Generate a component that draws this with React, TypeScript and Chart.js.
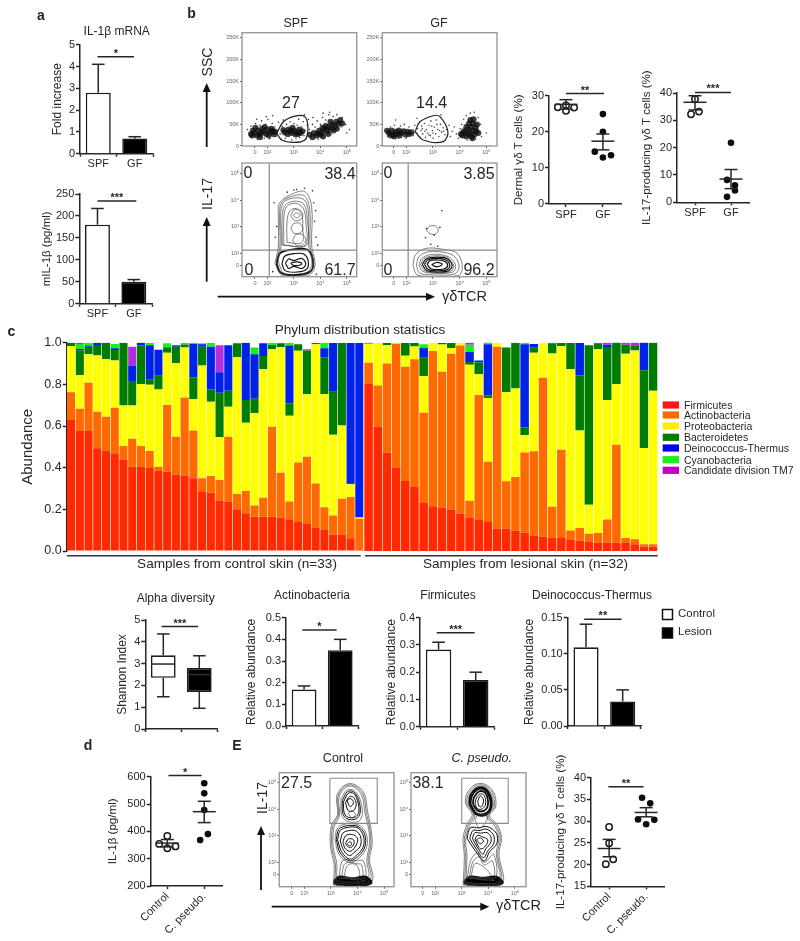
import React, { useEffect, useRef } from "react";
import { Chart, registerables } from "chart.js";
Chart.register(...registerables);

const FONT = "'Liberation Sans', Arial, sans-serif";
const INK = "#262626";

// ---------- panel c: phylum abundance per sample ----------
const controlSamples = Array.from({ length: 34 }, (_, i) => `C${i + 1}`);
const lesionSamples = Array.from({ length: 32 }, (_, i) => `L${i + 1}`);
const phyla = ["Firmicutes", "Actinobacteria", "Proteobacteria", "Bacteroidetes", "Deinococcus-Thermus", "Cyanobacteria", "Candidate division TM7"];
const phylaBarColors = ["#ff2a00", "#ff6a00", "#ffff00", "#007d00", "#0022e8", "#19f019", "#b030e0"];
const phylaLegendColors = ["#ff1414", "#ff6a00", "#ffee00", "#007d00", "#0000f0", "#19f019", "#c000c0"];

const ctlFirmicutes = [.629,.576,.576,.493,.482,.469,.437,.405,.405,.398,.384,.381,.366,.363,.349,.283,.28,.242,.238,.2,.181,.165,.165,.165,.16,.152,.139,.133,.11,.101,.078,.078,.061,.005];
const ctlActino = [.133,.107,.232,.176,.162,.219,.067,.134,.099,.082,.021,.32,.182,.374,.229,.066,.08,.099,.31,.074,.107,.053,.091,.432,.216,.086,.286,.32,.214,.109,.093,.173,.198,.15];
const ctlProteo = [.222,.162,.136,.27,.277,.227,.195,.16,.298,.318,.37,.251,.354,.24,.15,.542,.357,.205,.144,.656,.328,.443,.616,.371,.602,.411,.536,.299,.669,.544,.387,.352,.062,.006];
const ctlBactero = [.016,.117,.037,.05,.08,.05,.301,.117,.186,.024,.066,.026,.078,.014,.106,.09,.059,.214,.077,.067,.109,.07,.064,.021,.019,.059,.032,.21,.006,.176,.206,.397,.006,0];
const ctlDeino = [0,.008,.006,.01,0,.008,0,.074,.013,.166,.125,0,.008,0,.16,.011,.205,.098,.219,0,.275,.214,.061,0,0,.278,0,0,0,.043,.235,0,.672,.838];
const ctlCyano = [0,.024,.013,.002,0,.021,0,0,0,.011,0,.019,0,.008,.006,0,.019,0,0,0,0,.032,0,.011,.003,.013,0,0,0,.027,0,0,0,0];
const ctlTM7 = [0,.006,0,0,0,0,0,.091,0,0,0,0,0,0,0,.004,0,.13,0,0,0,0,0,0,0,0,0,.006,0,0,0,0,0,0];

const lesFirmicutes = [.804,.597,.473,.398,.336,.307,.231,.215,.209,.199,.18,.158,.153,.139,.107,.107,.097,.089,.075,.068,.064,.062,.053,.049,.046,.041,.041,.04,.038,.033,.021,.021];
const lesActino = [.1,.197,.427,.597,.548,.613,.433,.745,.651,.748,.807,.083,.596,.29,.873,.228,.258,.384,.404,.764,.148,.424,.045,.062,.037,.046,.11,.47,.024,.024,.011,.011];
const lesProteo = [.091,.204,.088,.006,.053,.062,.175,.038,.131,.027,.011,.653,.099,.306,.019,.427,.425,.084,.473,.169,.736,.498,.774,.467,.139,.882,.573,.291,.885,.906,.462,.737];
const lesBactero = [.006,0,.011,0,.062,.016,.089,0,.008,.024,0,.013,.057,.013,0,.215,.22,.037,.024,0,.048,.014,.127,.266,.766,.025,.255,.201,.043,.021,.374,.232];
const lesDeino = [0,0,0,0,0,0,.046,0,0,0,0,.048,.01,.245,0,0,0,.398,.018,0,.005,0,0,.154,0,0,.011,0,0,0,.134,0];
const lesCyano = [0,0,0,0,0,0,.018,0,0,0,0,.035,0,.01,0,0,0,.008,0,0,0,0,0,0,0,0,0,0,0,0,0,0];
const lesTM7 = [0,0,0,0,0,0,0,0,0,0,0,.011,0,0,0,0,0,0,0,0,0,0,0,0,0,.006,.011,0,.011,.018,0,0];

// ---------- bar panels ----------
const spfGf = ["SPF", "GF"];
const mrnaMean = [2.8, 0.7];
const mrnaTop = [4.1, 0.78];
const mil1Mean = [180, 50];
const mil1Top = [217, 55];
const actinoMean = [0.168, 0.35];
const actinoTop = [0.185, 0.4];
const firmMean = [0.283, 0.171];
const firmTop = [0.31, 0.2];
const deinoMean = [0.109, 0.034];
const deinoTop = [0.141, 0.05];
// box plot: q1, q3, median, low whisker, high whisker
const boxQ1 = [2.35, 1.7];
const boxQ3 = [3.38, 2.8];
const boxMedian = [2.98, 2.5];
const boxLow = [1.48, 0.95];
const boxHigh = [4.36, 3.36];

// ---------- individual-value panels ----------
const dermalSpf = [[0.78, 26.8], [1, 25.8], [1, 27.3], [1.22, 26.7]];
const dermalGf = [[2, 24.9], [2, 20], [1.78, 14.5], [2, 12.9], [2.22, 13.5]];
const dermalMean = [27.6, 17.4];
const dermalLo = [26.3, 15];
const dermalHi = [28.9, 19.4];
const il17Spf = [[0.89, 32.2], [1.11, 33.2], [1, 37.7]];
const il17Gf = [[2, 21.8], [1.89, 8.2], [2.11, 6.2], [2.11, 4.3], [1.89, 2]];
const il17Mean = [36.6, 8.5];
const il17Lo = [33.8, 5];
const il17Hi = [39, 12];
const il1Control = [[0.78, 354], [1, 383], [1, 338], [1.22, 345]];
const il1Pseudo = [[2, 576], [2, 539], [2, 478], [2.1, 390], [1.89, 368]];
const il1Mean = [357, 472];
const il1Lo = [343, 432];
const il1Hi = [370, 510];
const eControl = [[1, 28.65], [1, 24.9], [0.91, 20.1], [1.11, 21.2]];
const ePseudo = [[1.89, 35.4], [2.11, 34.1], [1.78, 30.4], [2.22, 30.3], [2, 29.3]];
const eMean = [23.7, 32];
const eLo = [21.8, 31];
const eHi = [25.8, 33.1];
const controlPseudo = ["Control", "C. pseudo."];

// ---------- flow cytometry (x: log decades of gamma-delta TCR; y: SSC in K or log decades of IL-17) ----------
const logTicks = [1.53, 2, 3, 4, 5];
const logLabels = ["0", "10²", "10³", "10⁴", "10⁵"];
const sscTicks = [0, 50, 100, 150, 200, 250];
const sscLabels = ["0", "50K", "100K", "150K", "200K", "250K"];

const spfCore = [[1.5,30],[1.65,36],[1.7,26],[1.85,33],[1.95,28],[2.0,38],[2.1,31],[2.2,35],[1.6,24],[1.8,40],[2.25,27],[1.45,36],[1.75,30],[2.05,24],[2.15,40],[1.38,28],[1.55,42],[1.9,44],[1.42,24],[1.72,20],[2.28,33],[2.65,32],[2.8,38],[2.9,30],[3.0,36],[3.1,32],[3.2,38],[2.75,28],[3.05,27],[2.95,42],[3.25,30],[2.6,37],[2.85,34],[3.15,28],[3.32,34],[3.6,26],[3.75,30],[3.85,24],[3.95,35],[4.05,30],[4.15,38],[4.25,34],[4.3,44],[4.4,40],[4.45,50],[4.55,46],[4.6,56],[4.7,52],[4.5,36],[4.0,26],[4.75,60],[4.2,46],[3.7,20],[3.9,29],[4.1,22],[4.3,28],[4.62,40],[4.82,52],[4.38,56],[4.08,42]];
const spfSparse = [[1.25,38],[1.32,27],[1.38,46],[1.42,20],[1.55,52],[1.62,16],[1.72,48],[1.78,58],[1.88,18],[1.92,50],[2.02,62],[2.08,17],[2.18,52],[2.28,44],[2.32,22],[2.38,36],[2.42,55],[2.48,28],[2.52,16],[2.55,46],[2.6,60],[2.68,18],[2.72,50],[2.82,22],[2.86,56],[2.92,14],[3.0,52],[3.08,18],[3.12,48],[3.18,62],[3.22,20],[3.3,44],[3.35,56],[3.38,24],[3.42,36],[3.46,16],[3.5,48],[3.55,62],[3.58,38],[3.65,18],[3.7,50],[3.72,66],[3.8,44],[3.88,58],[3.92,16],[4.0,50],[4.08,66],[4.12,20],[4.2,60],[4.28,24],[4.32,72],[4.4,28],[4.48,68],[4.55,34],[4.62,72],[4.68,40],[4.78,44],[4.82,66],[4.88,56],[4.95,50],[4.35,78],[4.1,76],[3.4,72],[2.2,70],[1.95,68],[1.6,62],[5.1,38],[5.0,30]];
const gfCore = [[1.35,30],[1.45,36],[1.5,26],[1.6,33],[1.65,28],[1.72,36],[1.8,30],[1.9,34],[1.55,22],[1.98,26],[2.05,33],[2.12,28],[1.28,35],[1.42,24],[1.75,24],[2.2,32],[4.1,24],[4.2,30],[4.25,22],[4.3,38],[4.38,30],[4.42,44],[4.5,36],[4.55,26],[4.6,42],[4.35,52],[4.5,52],[4.62,34],[4.7,30],[4.45,22],[4.52,62],[4.25,44],[4.15,34],[4.05,28],[4.4,60],[4.65,50],[4.35,26],[4.48,18]];
const gfSparse = [[1.2,38],[1.3,22],[1.4,44],[1.55,48],[1.7,18],[1.78,46],[1.92,50],[2.0,18],[2.1,44],[2.2,36],[2.26,24],[2.32,48],[2.4,30],[2.42,40],[2.5,22],[2.55,36],[2.58,46],[2.62,28],[2.68,52],[2.72,20],[2.75,38],[2.8,30],[2.85,48],[2.9,24],[2.92,58],[2.98,36],[3.0,18],[3.05,44],[3.1,28],[3.12,60],[3.18,38],[3.22,22],[3.28,50],[3.32,32],[3.38,42],[3.45,26],[3.5,38],[3.6,48],[3.65,22],[3.72,34],[3.8,44],[3.88,28],[3.95,18],[4.02,40],[4.08,50],[4.15,62],[4.25,70],[4.4,76],[4.55,78],[4.7,66],[4.78,50],[4.82,22],[5.0,30],[4.3,14],[4.6,16],[1.6,60],[2.4,64],[3.3,72],[2.7,34],[2.85,26],[3.0,30],[3.15,50],[3.25,36],[2.95,46],[2.6,40],[3.4,34]];
const spfGate = [[2.35,29],[2.6,56],[3.04,69],[3.41,68],[3.53,41],[3.41,14],[2.97,8.5],[2.54,14]];
const gfGate = [[2.33,33],[2.51,56],[3.01,70],[3.26,68],[3.56,33],[3.38,10],[2.63,14]];

const quadV = [[2.07, 1.0], [2.07, 5.5]];
const quadH = [[1.0, 2.11], [5.5, 2.11]];

const spfThin = [
  [[2.28,1.61],[2.41,2.24],[2.41,3.5],[2.45,3.88],[2.85,4.19],[3.41,4.32],[3.67,3.75],[3.67,2.3],[3.79,1.49],[3.48,1.11],[2.6,1.11]],
  [[2.34,1.65],[2.47,2.27],[2.46,3.45],[2.53,3.9],[2.92,4.14],[3.4,4.16],[3.6,3.62],[3.61,2.3],[3.73,1.55],[3.44,1.15],[2.62,1.15]],
  [[2.4,1.7],[2.52,2.3],[2.5,3.4],[2.6,3.9],[3.0,4.08],[3.4,4.0],[3.55,3.5],[3.55,2.3],[3.68,1.6],[3.4,1.2],[2.65,1.2]],
  [[2.56,2.3],[2.56,3.32],[2.66,3.8],[3.02,3.96],[3.38,3.84],[3.5,3.32],[3.48,2.3]],
  [[2.62,2.3],[2.62,3.3],[2.72,3.75],[3.05,3.88],[3.35,3.7],[3.45,3.2],[3.42,2.3]],
  [[2.74,2.4],[2.74,3.2],[2.85,3.6],[3.1,3.68],[3.3,3.45],[3.33,3.0],[3.3,2.4]],
  [[2.88,3.43],[3.0,3.62],[3.22,3.62],[3.34,3.43],[3.22,3.25],[3.0,3.25]],
  [[2.97,3.43],[3.1,3.52],[3.24,3.43],[3.1,3.33]],
  [[2.88,2.93],[3.0,3.12],[3.22,3.12],[3.34,2.93],[3.22,2.75],[3.0,2.75]],
  [[2.95,2.49],[3.08,2.7],[3.32,2.7],[3.45,2.49],[3.3,2.3],[3.08,2.3]],
];
const spfDark = [
  [[2.35,1.61],[2.47,1.99],[2.97,2.14],[3.54,2.11],[3.73,1.61],[3.6,1.29],[2.97,1.17],[2.47,1.29]],
  [[2.55,1.6],[2.65,1.88],[3.0,1.98],[3.4,1.95],[3.55,1.6],[3.42,1.35],[3.0,1.28],[2.65,1.35]],
  [[2.68,1.62],[2.8,1.78],[3.0,1.72],[3.3,1.8],[3.45,1.6],[3.3,1.42],[3.0,1.5],[2.8,1.42]],
  [[2.88,1.62],[3.0,1.66],[3.2,1.66],[3.3,1.6],[3.2,1.54],[2.98,1.54]],
];
const spfOutliers = [[2.35,3.0],[2.3,2.6],[3.75,3.9],[3.78,3.2],[3.7,4.35],[2.75,4.3],[3.1,4.4],[3.4,4.45],[3.83,2.6],[3.85,1.2],[2.2,1.3],[3.9,2.3],[2.25,3.9],[3.82,3.6],[3.0,4.38]];

const gfThin = [
  [[2.25,1.55],[2.35,1.95],[2.75,2.18],[3.4,2.14],[3.9,2.0],[4.1,1.5],[3.95,1.15],[3.0,1.12],[2.4,1.18]],
  [[2.38,1.55],[2.48,1.88],[2.85,2.05],[3.4,2.03],[3.8,1.88],[3.98,1.5],[3.82,1.22],[3.0,1.18],[2.5,1.25]],
  [[2.48,1.55],[2.58,1.8],[2.95,1.95],[3.4,1.92],[3.7,1.78],[3.85,1.5],[3.72,1.28],[3.05,1.24],[2.6,1.32]],
  [[2.54,1.56],[2.66,1.79],[3.05,1.9],[3.48,1.85],[3.68,1.7],[3.78,1.5],[3.64,1.3],[3.08,1.26],[2.68,1.34]],
  [[2.75,2.87],[2.88,3.02],[3.1,3.02],[3.2,2.87],[3.1,2.72],[2.9,2.72]],
];
const gfDark = [
  [[2.6,1.58],[2.75,1.78],[3.15,1.85],[3.55,1.78],[3.72,1.52],[3.55,1.32],[3.1,1.28],[2.75,1.35]],
  [[2.78,1.58],[2.9,1.72],[3.2,1.74],[3.45,1.68],[3.55,1.52],[3.4,1.4],[3.1,1.38],[2.9,1.42]],
  [[2.68,1.58],[2.82,1.75],[3.18,1.8],[3.5,1.73],[3.63,1.52],[3.48,1.36],[3.1,1.33],[2.82,1.38]],
  [[2.95,1.56],[3.15,1.65],[3.35,1.58],[3.15,1.48]],
];
const gfOutliers = [[3.33,3.6],[2.76,2.93],[3.26,2.97],[3.05,2.68],[2.72,2.58],[2.92,2.33],[3.18,2.26]];

const ctrlGate = [[2.96,5.17],[4.74,5.17],[4.74,3.47],[2.96,3.47],[2.96,5.17]];
const pseudoGate = [[3.0,5.17],[4.75,5.17],[4.75,3.47],[3.0,3.47],[3.0,5.17]];
const ctrlThin = [
  [[3.09,1.15],[3.12,1.9],[2.98,2.6],[3.02,3.4],[3.25,3.8],[3.22,4.5],[3.5,4.9],[3.85,4.95],[4.25,4.6],[4.38,3.9],[4.5,3.3],[4.55,2.7],[4.45,2.1],[4.55,1.3],[3.8,1.1]],
  [[3.14,1.22],[3.17,1.92],[3.03,2.6],[3.07,3.38],[3.28,3.78],[3.26,4.47],[3.52,4.86],[3.85,4.9],[4.21,4.55],[4.33,3.87],[4.46,3.28],[4.5,2.7],[4.4,2.1],[4.48,1.35],[3.8,1.18]],
  [[3.2,1.3],[3.22,1.95],[3.08,2.6],[3.12,3.35],[3.32,3.75],[3.3,4.45],[3.55,4.82],[3.85,4.85],[4.17,4.5],[4.28,3.85],[4.42,3.25],[4.45,2.7],[4.35,2.1],[4.4,1.4],[3.8,1.25]],
  [[3.38,4.4],[3.6,4.72],[3.85,4.72],[4.08,4.42],[4.18,3.85],[4.05,3.55],[3.6,3.55],[3.4,3.8]],
  [[3.15,2.9],[3.25,3.3],[3.6,3.45],[4.05,3.4],[4.32,3.1],[4.35,2.6],[4.1,2.2],[3.7,2.0],[3.3,2.3]],
  [[3.3,1.4],[3.4,2.0],[3.55,2.1],[3.9,2.05],[4.22,2.05],[4.25,1.4]],
  [[3.4,1.42],[3.5,1.92],[3.7,2.0],[3.95,1.95],[4.15,1.9],[4.15,1.42]],
  [[3.5,1.45],[3.6,1.85],[3.8,1.95],[4.0,1.85],[4.05,1.45]],
  [[3.65,3.85],[3.8,3.95],[3.92,3.8],[3.78,3.68]],
];
const ctrlDark = [
  [[3.43,4.34],[3.62,4.66],[3.85,4.66],[4.04,4.36],[4.1,3.88],[3.95,3.64],[3.6,3.64],[3.44,3.88]],
  [[3.48,4.3],[3.65,4.6],[3.85,4.6],[4.0,4.32],[4.05,3.9],[3.9,3.7],[3.6,3.72],[3.48,3.95]],
  [[3.55,4.25],[3.7,4.48],[3.85,4.45],[3.95,4.2],[3.85,3.95],[3.65,3.95]],
  [[3.6,4.35],[3.75,4.4],[3.85,4.25],[3.72,4.1]],
  [[3.2,2.87],[3.3,3.25],[3.62,3.38],[4.02,3.35],[4.27,3.05],[4.28,2.6],[4.05,2.25],[3.7,2.06],[3.35,2.35]],
  [[3.25,2.85],[3.35,3.2],[3.65,3.32],[4.0,3.3],[4.22,3.0],[4.22,2.6],[4.0,2.3],[3.7,2.12],[3.4,2.4]],
  [[3.35,2.8],[3.45,3.1],[3.7,3.2],[3.95,3.18],[4.12,2.95],[4.1,2.6],[3.9,2.4],[3.7,2.25],[3.48,2.45]],
  [[3.45,2.75],[3.55,3.0],[3.8,3.05],[4.0,2.9],[3.95,2.65],[3.75,2.42],[3.55,2.5]],
  [[3.55,2.7],[3.65,2.88],[3.85,2.85],[3.85,2.65],[3.7,2.55]],
  [[3.62,2.7],[3.72,2.78],[3.78,2.68],[3.7,2.62]],
];
const ctrlBase = [
  [[3.1,1.22],[3.3,1.44],[3.8,1.38],[4.3,1.44],[4.5,1.22],[3.8,1.14]],
  [[3.2,1.18],[3.8,1.27],[4.4,1.18],[3.8,1.2]],
  [[3.12,1.3],[3.4,1.36],[3.8,1.32],[4.2,1.36],[4.48,1.3],[3.8,1.24]],
];
const pseudoThin = [
  [[3.05,1.15],[3.1,2.2],[3.05,2.9],[3.2,3.45],[3.4,3.8],[3.15,4.2],[3.2,4.6],[3.5,4.93],[3.85,4.95],[4.2,4.65],[4.28,4.1],[4.05,3.75],[4.35,3.4],[4.5,2.9],[4.4,2.3],[4.55,1.2],[3.8,1.1]],
  [[3.1,1.2],[3.15,2.2],[3.1,2.88],[3.25,3.42],[3.45,3.78],[3.2,4.2],[3.25,4.57],[3.52,4.88],[3.85,4.9],[4.15,4.62],[4.23,4.1],[4.0,3.73],[4.3,3.38],[4.45,2.9],[4.35,2.32],[4.48,1.25],[3.8,1.15]],
  [[3.15,1.25],[3.2,2.2],[3.15,2.85],[3.3,3.4],[3.5,3.75],[3.25,4.2],[3.3,4.55],[3.55,4.83],[3.85,4.85],[4.1,4.6],[4.18,4.1],[3.95,3.72],[4.25,3.35],[4.4,2.9],[4.3,2.35],[4.42,1.3],[3.8,1.2]],
  [[3.5,3.6],[3.62,3.78],[3.95,3.75],[3.9,3.5],[3.65,3.3]],
  [[3.2,1.4],[3.35,2.1],[3.6,2.35],[3.85,2.0],[4.2,2.3],[4.25,1.4]],
  [[3.28,1.42],[3.42,2.02],[3.65,2.2],[3.85,1.9],[4.15,2.05],[4.18,1.42]],
  [[3.35,1.45],[3.5,1.95],[3.85,1.8],[4.1,1.45]],
];
const pseudoDark = [
  [[3.28,4.2],[3.33,4.53],[3.57,4.8],[3.85,4.8],[4.07,4.53],[4.12,4.1],[3.93,3.8],[3.55,3.8]],
  [[3.33,4.2],[3.38,4.5],[3.6,4.75],[3.85,4.75],[4.03,4.5],[4.08,4.1],[3.9,3.85],[3.55,3.85]],
  [[3.42,4.2],[3.46,4.45],[3.65,4.67],[3.85,4.65],[3.97,4.45],[3.98,4.12],[3.85,3.95],[3.6,3.95]],
  [[3.5,4.2],[3.55,4.42],[3.7,4.58],[3.85,4.52],[3.9,4.2],[3.78,4.02],[3.6,4.02]],
  [[3.6,4.3],[3.7,4.5],[3.82,4.35],[3.75,4.1],[3.65,4.12]],
  [[3.2,2.9],[3.32,3.3],[3.65,3.3],[3.95,3.35],[4.3,3.1],[4.32,2.7],[4.05,2.4],[3.85,2.05],[3.5,2.45]],
  [[3.3,2.9],[3.42,3.2],[3.65,3.2],[3.95,3.25],[4.2,3.02],[4.2,2.7],[4.0,2.45],[3.82,2.18],[3.55,2.5]],
  [[3.4,2.9],[3.5,3.12],[3.7,3.1],[3.95,3.12],[4.1,2.95],[4.08,2.72],[3.9,2.5],[3.8,2.3],[3.6,2.55]],
  [[3.5,2.88],[3.6,3.02],[3.8,2.95],[3.98,2.85],[3.9,2.62],[3.72,2.5],[3.6,2.65]],
  [[3.55,2.85],[3.7,2.92],[3.82,2.8],[3.7,2.7]],
];
const pseudoBase = [
  [[3.08,1.22],[3.3,1.44],[3.8,1.4],[4.3,1.44],[4.52,1.22],[3.8,1.14]],
  [[3.2,1.18],[3.8,1.27],[4.4,1.18],[3.8,1.2]],
  [[3.12,1.3],[3.4,1.36],[3.8,1.33],[4.2,1.36],[4.48,1.3],[3.8,1.24]],
];

// ---------- layout helpers ----------
const W = 800;
const H = 941;

function marks(spec: any) {
  return {
    id: "marks",
    afterDatasetsDraw(chart: any) {
      const { ctx, scales, chartArea } = chart;
      const x = scales.x;
      const y = scales.y;
      ctx.save();
      ctx.strokeStyle = INK;
      ctx.fillStyle = INK;
      ctx.lineWidth = 1.5;
      const seg = (a: number, b: number, c: number, d: number) => {
        ctx.beginPath();
        ctx.moveTo(a, b);
        ctx.lineTo(c, d);
        ctx.stroke();
      };
      (spec.errs || []).forEach((e: any) => {
        const px = x.getPixelForValue(e.x);
        seg(px, y.getPixelForValue(e.lo), px, y.getPixelForValue(e.hi));
        seg(px - e.cap, y.getPixelForValue(e.hi), px + e.cap, y.getPixelForValue(e.hi));
        if (e.both) seg(px - e.cap, y.getPixelForValue(e.lo), px + e.cap, y.getPixelForValue(e.lo));
      });
      (spec.lines || []).forEach((m: any) => {
        const px = x.getPixelForValue(m.x);
        const py = y.getPixelForValue(m.y);
        ctx.save();
        if (m.color) ctx.strokeStyle = m.color;
        seg(px - m.half, py, px + m.half, py);
        ctx.restore();
      });
      if (spec.sig) {
        const s = spec.sig;
        const py = y.getPixelForValue(s.y);
        const a = x.getPixelForValue(s.x1);
        const b = x.getPixelForValue(s.x2);
        seg(a, py, b, py);
        ctx.font = `bold 11px ${FONT}`;
        ctx.textAlign = "center";
        ctx.textBaseline = "alphabetic";
        ctx.fillText(s.label, (a + b) / 2, py);
      }
      if (spec.frame) {
        ctx.strokeStyle = "#9a9a9a";
        ctx.lineWidth = 1.4;
        ctx.strokeRect(chartArea.left, chartArea.top, chartArea.right - chartArea.left, chartArea.bottom - chartArea.top);
      }
      ctx.restore();
    },
  };
}

function fitted(rect: number[], extra: any, axis: "x" | "y") {
  return {
    ...extra,
    afterFit(s: any) {
      if (axis === "y") s.width = rect[0];
      else s.height = H - rect[3];
      s.paddingLeft = s.paddingRight = s.paddingTop = s.paddingBottom = 0;
    },
  };
}

function baseOptions(rect: number[], xScale: any, yScale: any) {
  return {
    responsive: false,
    animation: false,
    events: [],
    layout: { padding: { left: 0, bottom: 0, top: rect[1], right: W - rect[2] } },
    plugins: { legend: { display: false }, tooltip: { enabled: false }, title: { display: false } },
    scales: { x: fitted(rect, xScale, "x"), y: fitted(rect, yScale, "y") },
  };
}

function linearY(min: number, max: number, step: number, dec: number, title: string, titleX: number, size = 12, tickSize = 11) {
  return {
    type: "linear",
    min,
    max,
    border: { display: true, color: INK, width: 1.5 },
    grid: { display: true, drawOnChartArea: false, drawTicks: true, tickLength: 4, tickWidth: 1.5, tickColor: INK },
    ticks: {
      stepSize: step,
      autoSkip: false,
      padding: 1,
      color: INK,
      font: { family: FONT, size: tickSize },
      callback: (v: number) => Number(v).toFixed(dec),
    },
    title: title
      ? { display: true, text: title, color: INK, font: { family: FONT, size }, padding: { top: titleX - (size * 1.2) / 2, bottom: 0 } }
      : { display: false },
  };
}

function catX(labels: string[], rotate = false) {
  return {
    type: "category",
    labels,
    border: { display: true, color: INK, width: 1.5 },
    grid: { display: true, drawOnChartArea: false, drawTicks: true, tickLength: 3, tickWidth: 1.5, tickColor: INK },
    ticks: { autoSkip: false, maxRotation: rotate ? 45 : 0, minRotation: rotate ? 45 : 0, padding: 1, color: INK, font: { family: FONT, size: 11 } },
  };
}

function strideX(labels: string[], min: number, max: number, rotate = false) {
  return {
    type: "linear",
    min,
    max,
    border: { display: true, color: INK, width: 1.5 },
    grid: { display: true, drawOnChartArea: false, drawTicks: true, tickLength: 3, tickWidth: 1.5, tickColor: INK },
    afterBuildTicks(s: any) {
      s.ticks = [{ value: 1 }, { value: 2 }];
    },
    ticks: {
      autoSkip: false,
      maxRotation: rotate ? 45 : 0,
      minRotation: rotate ? 45 : 0,
      padding: 1,
      color: INK,
      font: { family: FONT, size: 11 },
      callback: (v: number) => labels[Math.round(v) - 1],
    },
  };
}

function barPanel(rect: number[], labels: string[], mean: number[], top: number[], yOpt: any, sig: any, pct = 0.685) {
  return {
    rect,
    config: {
      type: "bar",
      data: {
        labels,
        datasets: [{ data: mean, backgroundColor: ["#ffffff", "#000000"], borderColor: "#1c1c1c", borderWidth: 1.6, barPercentage: pct, categoryPercentage: 1 }],
      },
      options: baseOptions(rect, catX(labels), yOpt),
      plugins: [marks({ errs: mean.map((m, i) => ({ x: i, lo: m, hi: top[i], cap: 6.3 })), sig })],
    },
  };
}

function pts(list: number[][]) {
  return list.map(([x, y]) => ({ x, y }));
}

function stripPanel(rect: number[], labels: string[], a: number[][], b: number[][], mean: number[], lo: number[], hi: number[], xMin: number, xMax: number, yOpt: any, sig: any, rotate = false) {
  return {
    rect,
    config: {
      type: "scatter",
      data: {
        datasets: [
          { data: pts(a), pointRadius: 3.2, pointBackgroundColor: "rgba(255,255,255,0)", pointBorderColor: "#1c1c1c", pointBorderWidth: 1.5 },
          { data: pts(b), pointRadius: 3.3, pointBackgroundColor: "#0c0c0c", pointBorderColor: "#0c0c0c", pointBorderWidth: 0 },
        ],
      },
      options: baseOptions(rect, strideX(labels, xMin, xMax, rotate), yOpt),
      plugins: [
        marks({
          errs: mean.map((_, i) => ({ x: i + 1, lo: lo[i], hi: hi[i], cap: 6.5, both: true })),
          lines: mean.map((m, i) => ({ x: i + 1, y: m, half: 11.5 })),
          sig,
        }),
      ],
    },
  };
}

function ring(p: number[][], color: string, width: number) {
  return { data: pts([...p, p[0]]), showLine: true, tension: 0.35, pointRadius: 0, borderColor: color, borderWidth: width, backgroundColor: "transparent" };
}
function seg(p: number[][], color: string, width: number) {
  return { data: pts(p), showLine: true, tension: 0, pointRadius: 0, borderColor: color, borderWidth: width };
}
function dots(p: number[][], r: number, color: string) {
  return { data: pts(p), showLine: false, pointRadius: r, pointBackgroundColor: color, pointBorderWidth: 0 };
}

function flowPanel(rect: number[], datasets: any[], xMin: number, xMax: number, yMin: number, yMax: number, yTicks: number[], yLabels: string[]) {
  const small = { family: FONT, size: 5.5 };
  const axis = (ticks: number[], labels: string[], min: number, max: number) => ({
    type: "linear",
    min,
    max,
    border: { display: false },
    grid: { display: true, drawOnChartArea: false, drawTicks: true, tickLength: 2, tickWidth: 1, tickColor: "#555" },
    afterBuildTicks(s: any) {
      s.ticks = ticks.map((value) => ({ value }));
    },
    ticks: {
      autoSkip: false,
      maxRotation: 0,
      padding: 1,
      color: "#666",
      font: small,
      callback: (v: number) => labels[ticks.indexOf(v)],
    },
  });
  return {
    rect,
    config: {
      type: "scatter",
      data: { datasets },
      options: baseOptions(rect, axis(logTicks, logLabels, xMin, xMax), axis(yTicks, yLabels, yMin, yMax)),
      plugins: [marks({ frame: true })],
    },
  };
}

function stacked(rect: number[], labels: string[], series: number[][], yOpt: any) {
  return {
    rect,
    config: {
      type: "bar",
      data: {
        labels,
        datasets: series.map((data, i) => ({ label: phyla[i], data, backgroundColor: phylaBarColors[i], borderWidth: 0, barPercentage: 0.93, categoryPercentage: 1 })),
      },
      options: baseOptions(
        rect,
        { type: "category", stacked: true, border: { display: false }, grid: { display: false }, ticks: { display: false } },
        { ...yOpt, stacked: true },
      ),
    },
  };
}

const hiddenY = { type: "linear", min: 0, max: 1, border: { display: false }, grid: { display: false }, ticks: { display: false } };
const thin = "#4a4a4a";
const dark = "#0d0d0d";

const panels: any[] = [
  barPanel([80, 44.7, 153, 153.7], spfGf, mrnaMean, mrnaTop, linearY(0, 5, 1, 0, "Fold increase", 58), { x1: -0.02, x2: 0.98, y: 4.45, label: "*" }),
  barPanel([79.3, 194, 152, 303.7], spfGf, mil1Mean, mil1Top, linearY(0, 250, 50, 0, "mIL-1β (pg/ml)", 46.7, 11.5), { x1: 0, x2: 1.07, y: 234, label: "***" }),
  flowPanel([242, 32.7, 356.7, 146], [dots(spfSparse, 0.8, "#333"), dots(spfCore, 3, "rgba(15,15,15,.8)"), ring(spfGate, "#222", 1.2)], 1.04, 5.37, 0, 262, sscTicks, sscLabels),
  flowPanel([382.3, 32.7, 497, 146], [dots(gfSparse, 0.8, "#444"), dots(gfCore, 3, "rgba(15,15,15,.8)"), ring(gfGate, "#222", 1.2)], 1.1, 5.4, 0, 262, sscTicks, sscLabels),
  flowPanel([242, 163, 356.7, 276.7], [seg(quadV, "#8a8a8a", 1.2), seg(quadH, "#8a8a8a", 1.2), dots(spfOutliers, 0.8, "#222"), ...spfThin.map((r) => ring(r, thin, 0.7)), ...spfDark.map((r, i) => ring(r, dark, i === 0 ? 1.9 : 1.1))], 1.04, 5.37, 1.11, 5.4, logTicks, logLabels),
  flowPanel([382.3, 163, 497, 276.7], [seg(quadV, "#8a8a8a", 1.2), seg(quadH, "#8a8a8a", 1.2), dots(gfOutliers, 0.8, "#222"), ...gfThin.map((r) => ring(r, thin, 0.7)), ...gfDark.map((r) => ring(r, dark, 1.2))], 1.1, 5.4, 1.11, 5.4, logTicks, logLabels),
  stripPanel([549, 95.7, 621, 204], spfGf, dermalSpf, dermalGf, dermalMean, dermalLo, dermalHi, 0.54, 2.49, linearY(0, 30, 10, 0, "Dermal γδ T cells (%)", 519, 11.6), { x1: 1, x2: 2.03, y: 30.6, label: "**" }),
  stripPanel([677, 93, 749, 202.3], spfGf, il17Spf, il17Gf, il17Mean, il17Lo, il17Hi, 0.5, 2.5, linearY(0, 40, 10, 0, "IL-17-producing γδ T cells (%)", 646.7, 11.6), { x1: 1, x2: 2, y: 40.2, label: "***" }),
  stacked([66.7, 342.7, 363.7, 551], controlSamples, [ctlFirmicutes, ctlActino, ctlProteo, ctlBactero, ctlDeino, ctlCyano, ctlTM7], linearY(0, 1, 0.2, 1, "Abundance", 28, 15, 12.5)),
  stacked([364, 342.7, 657.7, 551], lesionSamples, [lesFirmicutes, lesActino, lesProteo, lesBactero, lesDeino, lesCyano, lesTM7], hiddenY),
  {
    rect: [145.3, 620, 217.3, 729],
    config: {
      type: "bar",
      data: {
        labels: ["", ""],
        datasets: [{ data: boxQ1.map((q, i) => [q, boxQ3[i]]), backgroundColor: ["#ffffff", "#000000"], borderColor: "#1c1c1c", borderWidth: 1.6, borderSkipped: false, barPercentage: 0.685, categoryPercentage: 1 }],
      },
      options: baseOptions([145.3, 620, 217.3, 729], catX(["", ""]), linearY(0, 5, 1, 0, "Shannon Index", 122.7, 12)),
      plugins: [
        marks({
          errs: [0, 1].flatMap((i) => [
            { x: i, lo: boxQ3[i], hi: boxHigh[i], cap: 6.3 },
            { x: i, lo: boxQ1[i], hi: boxLow[i], cap: 6.3 },
          ]),
          lines: [
            { x: 0, y: boxMedian[0], half: 12 },
            { x: 1, y: boxMedian[1], half: 12, color: "#2e2e2e" },
          ],
          sig: { x1: -0.05, x2: 0.97, y: 4.7, label: "***" },
        }),
      ],
    },
  },
  barPanel([286, 617.7, 358.3, 726], ["", ""], actinoMean, actinoTop, linearY(0, 0.5, 0.1, 1, "Relative abundance", 251.7, 12), { x1: -0.05, x2: 0.9, y: 0.443, label: "*" }),
  barPanel([420, 617.7, 494.3, 726.7], ["", ""], firmMean, firmTop, linearY(0, 0.4, 0.1, 1, "Relative abundance", 391.7, 12), { x1: -0.05, x2: 0.97, y: 0.345, label: "***" }),
  barPanel([567.7, 617.7, 641, 726], ["", ""], deinoMean, deinoTop, linearY(0, 0.15, 0.05, 2, "Relative abundance", 529.3, 12), { x1: -0.05, x2: 0.97, y: 0.148, label: "**" }),
  stripPanel([150.7, 776.7, 222.7, 886], controlPseudo, il1Control, il1Pseudo, il1Mean, il1Lo, il1Hi, 0.55, 2.5, linearY(200, 600, 100, 0, "IL-1β (pg/ml)", 113, 11.6), { x1: 1.03, x2: 1.93, y: 604, label: "*" }, true),
  flowPanel([279.3, 772.7, 394, 886.7], [seg(ctrlGate, "#8a8a8a", 1.1), ...ctrlThin.map((r) => ring(r, thin, 0.7)), ...ctrlDark.map((r) => ring(r, dark, 1)), ...ctrlBase.map((r) => ring(r, "#000", 2.8))], 1.06, 5.37, 1.08, 5.38, logTicks, logLabels),
  flowPanel([411, 772.7, 526, 886.7], [seg(pseudoGate, "#8a8a8a", 1.1), ...pseudoThin.map((r) => ring(r, thin, 0.7)), ...pseudoDark.map((r, i) => ring(r, dark, i < 3 ? 1.8 : 1)), ...pseudoBase.map((r) => ring(r, "#000", 2.8))], 1.09, 5.42, 1.08, 5.38, logTicks, logLabels),
  stripPanel([591, 777.7, 664.3, 886.3], controlPseudo, eControl, ePseudo, eMean, eLo, eHi, 0.51, 2.49, linearY(15, 40, 5, 0, "IL-17-producing γδ T cells (%)", 560.7, 11.6), { x1: 0.98, x2: 1.93, y: 37.9, label: "**" }, true),
];

// ---------- free text ----------
type Label = { t: string; x: number; y: number; s: number; b?: boolean; i?: boolean; rot?: boolean; left?: boolean };
const labels: Label[] = [
  { t: "a", x: 41, y: 15, s: 14, b: true },
  { t: "b", x: 191.5, y: 13, s: 14, b: true },
  { t: "c", x: 11.5, y: 331, s: 14, b: true },
  { t: "d", x: 88, y: 745, s: 14, b: true },
  { t: "E", x: 237, y: 745, s: 14, b: true },
  { t: "IL-1β mRNA", x: 116.7, y: 30.7, s: 12 },
  { t: "SPF", x: 295.7, y: 23.3, s: 12.5 },
  { t: "GF", x: 439, y: 23, s: 12.5 },
  { t: "SSC", x: 206.7, y: 61.7, s: 14, rot: true },
  { t: "IL-17", x: 207, y: 194, s: 14, rot: true },
  { t: "γδTCR", x: 464.5, y: 295.7, s: 14.5 },
  { t: "27", x: 291, y: 102.7, s: 16 },
  { t: "14.4", x: 431.7, y: 103, s: 16 },
  { t: "0", x: 248, y: 173, s: 16 },
  { t: "38.4", x: 340, y: 173.7, s: 16 },
  { t: "0", x: 249, y: 270, s: 16 },
  { t: "61.7", x: 340, y: 270, s: 16 },
  { t: "0", x: 388, y: 173.3, s: 16 },
  { t: "3.85", x: 479, y: 174, s: 16 },
  { t: "0", x: 388, y: 270, s: 16 },
  { t: "96.2", x: 479, y: 270, s: 16 },
  { t: "Phylum distribution statistics", x: 360, y: 330.3, s: 13.6 },
  { t: "Samples from control skin (n=33)", x: 237, y: 563.5, s: 13.6 },
  { t: "Samples from lesional skin (n=32)", x: 525.5, y: 563.5, s: 13.6 },
  { t: "Alpha diversity", x: 175.7, y: 598, s: 12 },
  { t: "Actinobacteria", x: 312, y: 595, s: 12 },
  { t: "Firmicutes", x: 448, y: 595, s: 12 },
  { t: "Deinococcus-Thermus", x: 592, y: 595, s: 12 },
  { t: "Control", x: 678, y: 613.5, s: 11.5, left: true },
  { t: "Lesion", x: 678, y: 632, s: 11.5, left: true },
  { t: "Control", x: 343, y: 758, s: 12.5 },
  { t: "C. pseudo.", x: 481.7, y: 758, s: 12.5, i: true },
  { t: "IL-17", x: 261.7, y: 797.7, s: 14, rot: true },
  { t: "27.5", x: 296.7, y: 783, s: 16 },
  { t: "38.1", x: 428, y: 783, s: 16 },
  { t: "γδTCR", x: 518.5, y: 905, s: 14.5 },
];
const legendRows = [405, 415, 426, 437.3, 448, 459.7, 470.3];

function Arrow({ x1, y1, x2, y2 }: any) {
  const vertical = x1 === x2;
  const head = vertical
    ? `${x2},${y2} ${x2 - 4},${y2 + 9} ${x2 + 4},${y2 + 9}`
    : `${x2},${y2} ${x2 - 9},${y2 - 4} ${x2 - 9},${y2 + 4}`;
  return (
    <g>
      <line x1={x1} y1={y1} x2={vertical ? x2 : x2 - 6} y2={vertical ? y2 + 6 : y2} stroke="#111" strokeWidth={1.8} />
      <polygon points={head} fill="#111" />
    </g>
  );
}

export default function App() {
  const refs = useRef<(HTMLCanvasElement | null)[]>([]);
  useEffect(() => {
    const charts = panels.map((p, i) => new Chart(refs.current[i] as HTMLCanvasElement, p.config));
    return () => charts.forEach((c) => c.destroy());
  }, []);
  return (
    <div style={{ position: "absolute", left: 0, top: 0, width: W, height: H, overflow: "hidden", background: "#fff", fontFamily: FONT, color: INK, filter: "blur(0.4px)" }}>
      {panels.map((_, i) => (
        <canvas key={i} ref={(el) => { refs.current[i] = el; }} width={W} height={H} style={{ position: "absolute", left: 0, top: 0, width: W, height: H, pointerEvents: "none" }} />
      ))}
      <svg width={W} height={H} style={{ position: "absolute", left: 0, top: 0, pointerEvents: "none" }}>
        <Arrow x1={206.7} y1={147} x2={206.7} y2={83} />
        <Arrow x1={206.7} y1={281.7} x2={206.7} y2={217} />
        <Arrow x1={217.7} y1={296.7} x2={435} y2={296.7} />
        <Arrow x1={261} y1={890} x2={261} y2={826} />
        <Arrow x1={271.7} y1={906.7} x2={489.3} y2={906.7} />
        <line x1={67} y1={555.7} x2={360.7} y2={555.7} stroke="#333" strokeWidth={1.4} />
        <line x1={365} y1={555.7} x2={657.7} y2={555.7} stroke="#333" strokeWidth={1.4} />
        <rect x={662.5} y={609.5} width={10} height={10} fill="#fff" stroke="#111" strokeWidth={1.5} />
        <rect x={662.5} y={628} width={10} height={10} fill="#000" stroke="#111" strokeWidth={1.5} />
        {phyla.map((_, i) => (
          <rect key={i} x={662.7} y={legendRows[i] - 3.6} width={16.3} height={7.2} fill={phylaLegendColors[i]} />
        ))}
      </svg>
      {phyla.map((name, i) => (
        <span key={name} style={{ position: "absolute", left: 684, top: legendRows[i], transform: "translateY(-50%)", fontSize: 10.5, lineHeight: 1, whiteSpace: "nowrap" }}>
          {name}
        </span>
      ))}
      {labels.map((l, i) => (
        <span
          key={i}
          style={{
            position: "absolute",
            left: l.x,
            top: l.y,
            fontSize: l.s,
            lineHeight: 1,
            whiteSpace: "nowrap",
            fontWeight: l.b ? 700 : 400,
            fontStyle: l.i ? "italic" : "normal",
            transform: `translate(${l.left ? "0" : "-50%"},-50%)${l.rot ? " rotate(-90deg)" : ""}`,
          }}
        >
          {l.t}
        </span>
      ))}
    </div>
  );
}
